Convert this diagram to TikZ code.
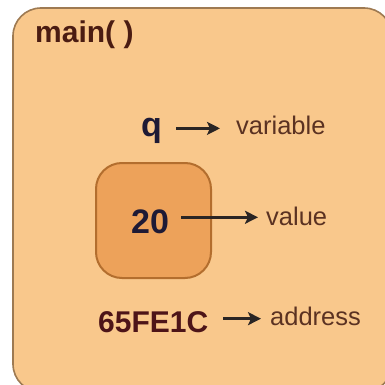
\documentclass[tikz,border=0pt]{standalone}
\usepackage{fontspec}
\setmainfont{Liberation Sans}
\usetikzlibrary{arrows.meta}
\definecolor{frameFill}{HTML}{F9C88C}
\definecolor{frameLine}{HTML}{9E7A52}
\definecolor{cellFill}{HTML}{EDA25A}
\definecolor{cellLine}{HTML}{B36E2E}
\definecolor{titleInk}{HTML}{4B1C12}
\definecolor{nameInk}{HTML}{1E1A35}
\definecolor{addrInk}{HTML}{4D1418}
\definecolor{noteInk}{HTML}{5B3222}
\definecolor{arrowInk}{HTML}{2A2524}
\begin{document}
\begin{tikzpicture}[x=1pt,y=-1pt,
  txt/.style={inner sep=0pt,anchor=base west},
  bigtxt/.style={txt,font=\bfseries\fontsize{#1}{#1}\selectfont},
  note/.style={txt,text=noteInk,font=\fontsize{25.5}{25.5}\selectfont},
  pointer/.style={draw=arrowInk,line width=2.8pt,-{Stealth[length=13pt,width=13pt,inset=3pt]}}]
  \useasboundingbox (0,0) rectangle (385,385);
  \fill[white] (0,0) rectangle (385,385);
  \begin{scope}
    \clip (0,0) rectangle (385,385);
    % frame of main()
    \draw[fill=frameFill,draw=frameLine,line width=1.6pt,rounded corners=28pt]
      (13,8) rectangle (392,392);
  \end{scope}
  \node[bigtxt=30,text=titleInk] (title) at (35,43) {main( )};
  % memory cell
  \draw[fill=cellFill,draw=cellLine,line width=2pt,rounded corners=26pt]
    (96,163) rectangle (211,278);
  % variable name
  \node[bigtxt=34,text=nameInk] (q) at (141,136) {q};
  \node[note] (var) at (236,135) {variable};
  \draw[pointer,shorten <=14pt,shorten >=16pt] ([yshift=2pt]q.east) -- ([yshift=2pt]q.east -| var.west);
  % stored value
  \node[bigtxt=34,text=nameInk] (v) at (131,233) {20};
  \node[note] (val) at (266,225) {value};
  \draw[pointer,shorten <=12pt,shorten >=8pt] ([yshift=4pt]v.east) -- ([yshift=4pt]v.east -| val.west);
  % address
  \node[bigtxt=30,text=addrInk] (a) at (98,332) {65FE1C};
  \node[note] (adr) at (270,325) {address};
  \draw[pointer,shorten <=15pt,shorten >=9pt] ([yshift=3pt]a.east) -- ([yshift=3pt]a.east -| adr.west);
\end{tikzpicture}
\end{document}
